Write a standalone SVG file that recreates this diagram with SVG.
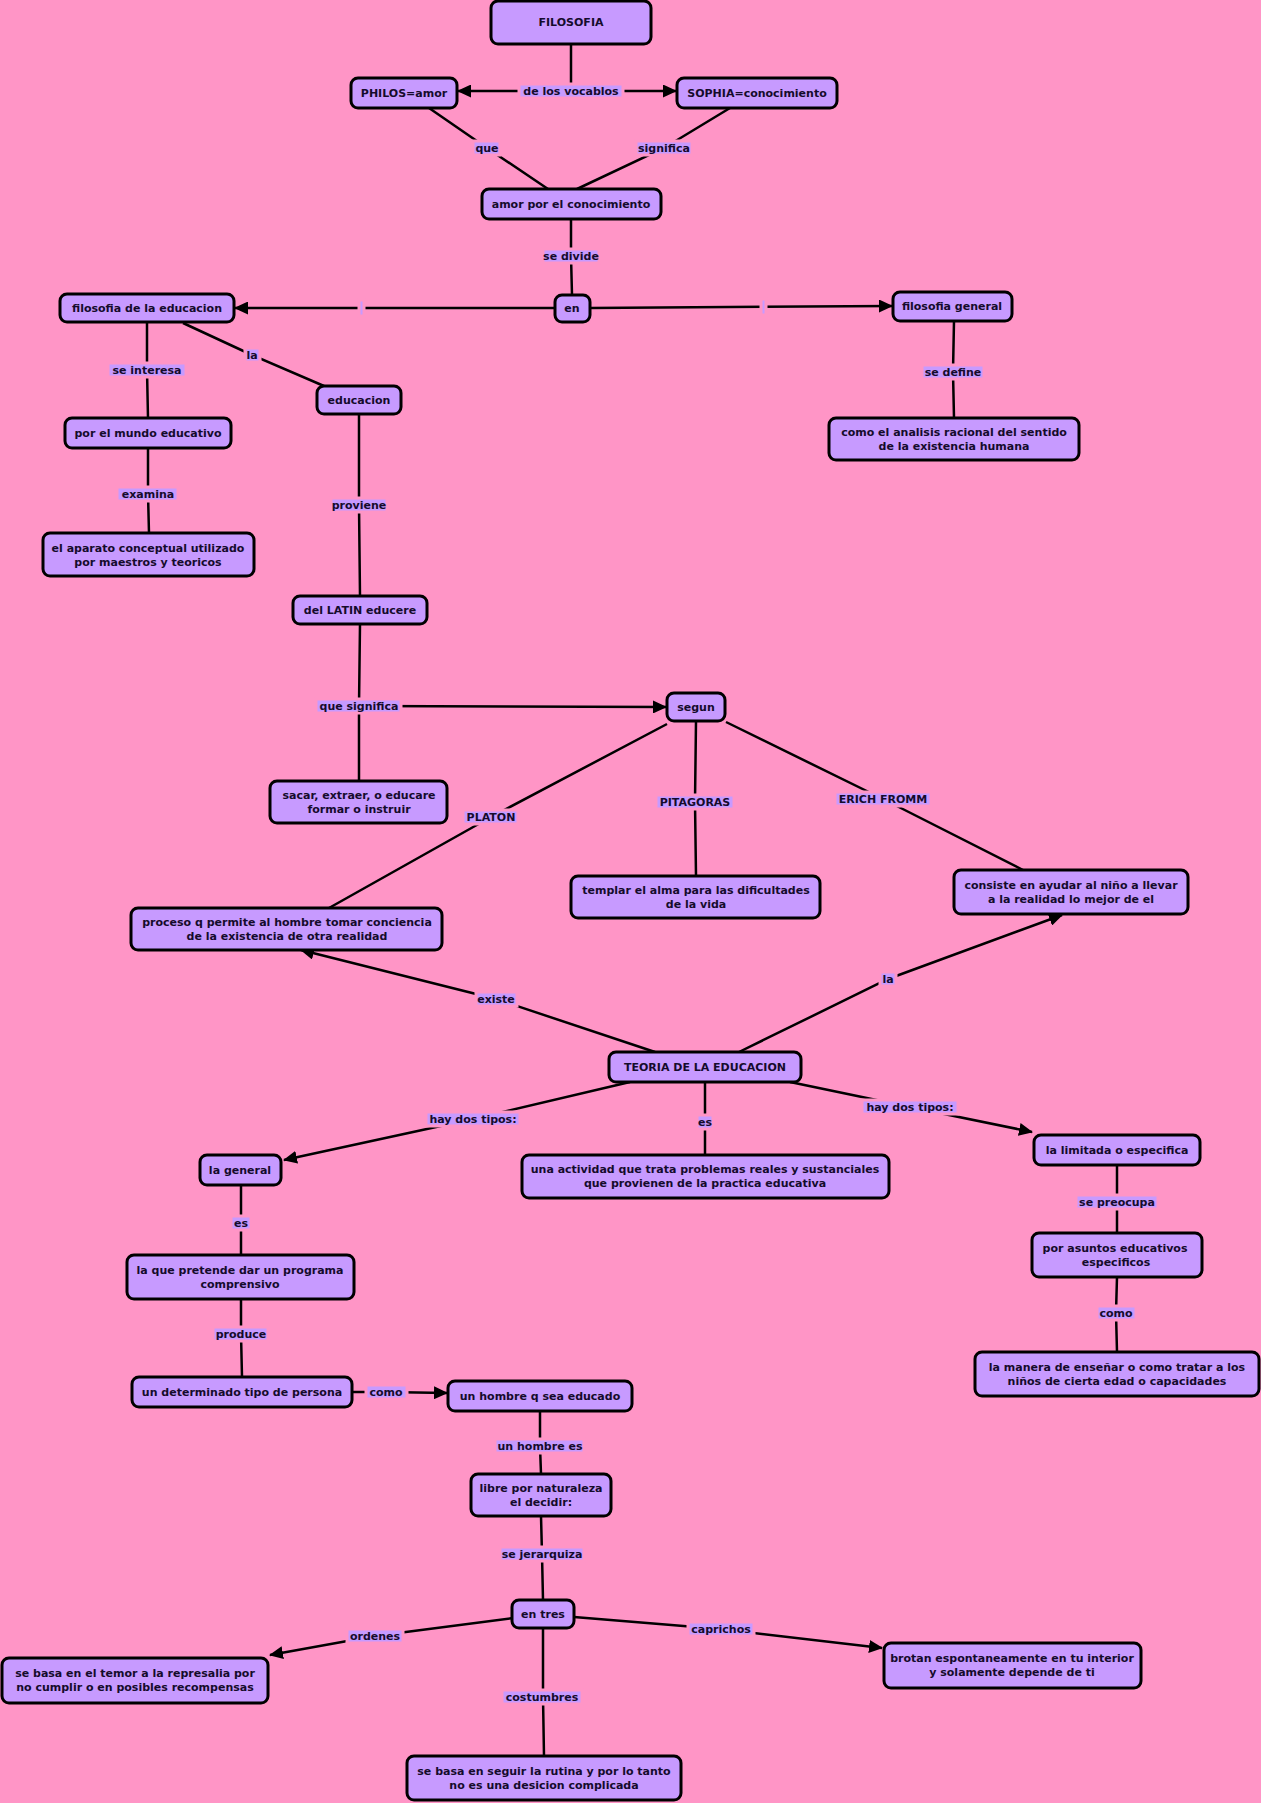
<svg xmlns="http://www.w3.org/2000/svg" width="1261" height="1803" viewBox="0 0 1261 1803">
<defs>
<style>
.node rect{fill:#c79aff;stroke:#000;stroke-width:3}
.lbl rect{fill:#c79aff;stroke:#ff95c6;stroke-width:3}
text{font-family:"DejaVu Sans",Verdana,sans-serif;font-size:11px;font-weight:bold;fill:#150b2c;text-anchor:middle}
.edge{stroke:#000;stroke-width:2.5;fill:none}
.arr{marker-end:url(#ah)}
</style>
<marker id="ah" markerUnits="userSpaceOnUse" viewBox="0 0 14 13" markerWidth="14" markerHeight="13" refX="13" refY="6.5" orient="auto">
<path d="M0,0 L14,6.5 L0,13 z" fill="#000"/>
</marker>
</defs>
<rect width="1261" height="1803" fill="#ff95c6"/>
<g id="connectors">
<path class="edge" d="M571,44 L571,91"/>
<path class="edge arr" d="M571,91 L458,91"/>
<path class="edge arr" d="M571,91 L676,91"/>
<path class="edge" d="M429,108 L487,148 L548,189"/>
<path class="edge" d="M730,108 L664,148 L577,189"/>
<path class="edge" d="M571,219 L571,256 L572,295"/>
<path class="edge arr" d="M555,308 L235,308"/>
<path class="edge arr" d="M590,308 L892,306"/>
<path class="edge" d="M147,322 L147,370 L148,418"/>
<path class="edge" d="M183,323 L252,355 L324,386"/>
<path class="edge" d="M148,448 L148,494 L149,533"/>
<path class="edge" d="M954,321 L953,372 L954,418"/>
<path class="edge" d="M359,414 L359,505 L360,596"/>
<path class="edge" d="M360,624 L359,706 L359,781"/>
<path class="edge arr" d="M359,706 L666,707"/>
<path class="edge" d="M667,724 L491,817 L329,908"/>
<path class="edge" d="M696,721 L695,802 L696,876"/>
<path class="edge" d="M726,722 L883,799 L1023,870"/>
<path class="edge arr" d="M655,1052 L496,999 L301,950"/>
<path class="edge arr" d="M739,1052 L888,979 L1062,915"/>
<path class="edge arr" d="M630,1082 L473,1119 L284,1160"/>
<path class="edge" d="M705,1082 L705,1122 L705,1155"/>
<path class="edge arr" d="M790,1082 L910,1107 L1032,1132"/>
<path class="edge" d="M1117,1165 L1117,1202 L1117,1233"/>
<path class="edge" d="M1117,1277 L1116,1313 L1117,1352"/>
<path class="edge" d="M241,1185 L241,1223 L241,1255"/>
<path class="edge" d="M241,1299 L241,1334 L242,1377"/>
<path class="edge arr" d="M352,1392 L386,1392 L447,1393"/>
<path class="edge" d="M540,1411 L540,1446 L541,1474"/>
<path class="edge" d="M541,1516 L542,1554 L543,1600"/>
<path class="edge arr" d="M513,1618 L375,1636 L270,1655"/>
<path class="edge arr" d="M574,1617 L720,1629 L882,1648"/>
<path class="edge" d="M543,1628 L543,1697 L544,1756"/>
<g class="lbl">
<rect x="519" y="84" width="104" height="14"/><text x="571" y="95">de los vocablos</text>
<rect x="473" y="141" width="27" height="14"/><text x="487" y="152">que</text>
<rect x="636" y="141" width="56" height="14"/><text x="664" y="152">significa</text>
<rect x="543" y="249" width="56" height="14"/><text x="571" y="260">se divide</text>
<rect x="359" y="300" width="5" height="16"/>
<rect x="761" y="299" width="5" height="16"/>
<rect x="108" y="363" width="78" height="14"/><text x="147" y="374">se interesa</text>
<rect x="245" y="348" width="15" height="14"/><text x="252" y="359">la</text>
<rect x="117" y="487" width="61" height="14"/><text x="148" y="498">examina</text>
<rect x="331" y="498" width="56" height="14"/><text x="359" y="509">proviene</text>
<rect x="922" y="365" width="62" height="14"/><text x="953" y="376">se define</text>
<rect x="316" y="699" width="85" height="14"/><text x="359" y="710">que significa</text>
<rect x="463" y="810" width="55" height="14"/><text x="491" y="821">PLATON</text>
<rect x="656" y="795" width="78" height="14"/><text x="695" y="806">PITAGORAS</text>
<rect x="835" y="792" width="96" height="14"/><text x="883" y="803">ERICH FROMM</text>
<rect x="476" y="992" width="41" height="14"/><text x="496" y="1003">existe</text>
<rect x="880" y="972" width="16" height="14"/><text x="888" y="983">la</text>
<rect x="426" y="1112" width="94" height="14"/><text x="473" y="1123">hay dos tipos:</text>
<rect x="697" y="1115" width="16" height="14"/><text x="705" y="1126">es</text>
<rect x="862" y="1100" width="96" height="14"/><text x="910" y="1111">hay dos tipos:</text>
<rect x="1076" y="1195" width="82" height="14"/><text x="1117" y="1206">se preocupa</text>
<rect x="1097" y="1306" width="39" height="14"/><text x="1116" y="1317">como</text>
<rect x="231" y="1216" width="20" height="14"/><text x="241" y="1227">es</text>
<rect x="213" y="1327" width="55" height="14"/><text x="241" y="1338">produce</text>
<rect x="366" y="1385" width="41" height="14"/><text x="386" y="1396">como</text>
<rect x="495" y="1439" width="89" height="14"/><text x="540" y="1450">un hombre es</text>
<rect x="500" y="1547" width="84" height="14"/><text x="542" y="1558">se jerarquiza</text>
<rect x="347" y="1629" width="56" height="14"/><text x="375" y="1640">ordenes</text>
<rect x="688" y="1622" width="66" height="14"/><text x="721" y="1633">caprichos</text>
<rect x="502" y="1690" width="80" height="14"/><text x="542" y="1701">costumbres</text>
</g>
</g>
<g id="n-filosofia" class="node"><rect x="491" y="1" width="160" height="43" rx="7"/><text x="571" y="26">FILOSOFIA</text></g>
<g id="n-philos" class="node"><rect x="351" y="78" width="106" height="30" rx="7"/><text x="404" y="97">PHILOS=amor</text></g>
<g id="n-sophia" class="node"><rect x="677" y="78" width="160" height="30" rx="7"/><text x="757" y="97">SOPHIA=conocimiento</text></g>
<g id="n-amor" class="node"><rect x="482" y="189" width="179" height="30" rx="7"/><text x="571" y="208">amor por el conocimiento</text></g>
<g id="n-en" class="node"><rect x="555" y="295" width="35" height="27" rx="7"/><text x="572" y="312">en</text></g>
<g id="n-filoedu" class="node"><rect x="60" y="294" width="174" height="28" rx="7"/><text x="147" y="312">filosofia de la educacion</text></g>
<g id="n-filogen" class="node"><rect x="893" y="292" width="119" height="29" rx="7"/><text x="952" y="310">filosofia general</text></g>
<g id="n-educacion" class="node"><rect x="317" y="386" width="84" height="28" rx="7"/><text x="359" y="404">educacion</text></g>
<g id="n-mundo" class="node"><rect x="65" y="418" width="166" height="30" rx="7"/><text x="148" y="437">por el mundo educativo</text></g>
<g id="n-aparato" class="node"><rect x="43" y="533" width="211" height="43" rx="7"/><text x="148" y="552">el aparato conceptual utilizado</text><text x="148" y="566">por maestros y teoricos</text></g>
<g id="n-analisis" class="node"><rect x="829" y="418" width="250" height="42" rx="7"/><text x="954" y="436">como el analisis racional del sentido</text><text x="954" y="450">de la existencia humana</text></g>
<g id="n-latin" class="node"><rect x="293" y="596" width="134" height="28" rx="7"/><text x="360" y="614">del LATIN educere</text></g>
<g id="n-segun" class="node"><rect x="667" y="693" width="58" height="28" rx="7"/><text x="696" y="711">segun</text></g>
<g id="n-sacar" class="node"><rect x="270" y="781" width="177" height="42" rx="7"/><text x="359" y="799">sacar, extraer, o educare</text><text x="359" y="813">formar o instruir</text></g>
<g id="n-templar" class="node"><rect x="571" y="876" width="249" height="42" rx="7"/><text x="696" y="894">templar el alma para las dificultades</text><text x="696" y="908">de la vida</text></g>
<g id="n-proceso" class="node"><rect x="131" y="908" width="311" height="42" rx="7"/><text x="287" y="926">proceso q permite al hombre tomar conciencia</text><text x="287" y="940">de la existencia de otra realidad</text></g>
<g id="n-consiste" class="node"><rect x="954" y="870" width="234" height="44" rx="7"/><text x="1071" y="889">consiste en ayudar al niño a llevar</text><text x="1071" y="903">a la realidad lo mejor de el</text></g>
<g id="n-teoria" class="node"><rect x="609" y="1052" width="192" height="30" rx="7"/><text x="705" y="1071">TEORIA DE LA EDUCACION</text></g>
<g id="n-general" class="node"><rect x="200" y="1155" width="81" height="30" rx="7"/><text x="240" y="1174">la general</text></g>
<g id="n-actividad" class="node"><rect x="522" y="1155" width="367" height="43" rx="7"/><text x="705" y="1173">una actividad que trata problemas reales y sustanciales</text><text x="705" y="1187">que provienen de la practica educativa</text></g>
<g id="n-limitada" class="node"><rect x="1034" y="1135" width="166" height="30" rx="7"/><text x="1117" y="1154">la limitada o especifica</text></g>
<g id="n-asuntos" class="node"><rect x="1032" y="1233" width="170" height="44" rx="7"/><text x="1115" y="1252">por asuntos educativos</text><text x="1116" y="1266">especificos</text></g>
<g id="n-manera" class="node"><rect x="975" y="1352" width="284" height="44" rx="7"/><text x="1117" y="1371">la manera de enseñar o como tratar a los</text><text x="1117" y="1385">niños de cierta edad o capacidades</text></g>
<g id="n-pretende" class="node"><rect x="127" y="1255" width="227" height="44" rx="7"/><text x="240" y="1274">la que pretende dar un programa</text><text x="240" y="1288">comprensivo</text></g>
<g id="n-determinado" class="node"><rect x="132" y="1377" width="220" height="30" rx="7"/><text x="242" y="1396">un determinado tipo de persona</text></g>
<g id="n-hombre" class="node"><rect x="448" y="1381" width="184" height="30" rx="7"/><text x="540" y="1400">un hombre q sea educado</text></g>
<g id="n-libre" class="node"><rect x="471" y="1474" width="140" height="42" rx="7"/><text x="541" y="1492">libre por naturaleza</text><text x="541" y="1506">el decidir:</text></g>
<g id="n-entres" class="node"><rect x="512" y="1600" width="62" height="28" rx="7"/><text x="543" y="1618">en tres</text></g>
<g id="n-temor" class="node"><rect x="2" y="1658" width="266" height="45" rx="7"/><text x="135" y="1677">se basa en el temor a la represalia por</text><text x="135" y="1691">no cumplir o en posibles recompensas</text></g>
<g id="n-brotan" class="node"><rect x="884" y="1643" width="257" height="45" rx="7"/><text x="1012" y="1662">brotan espontaneamente en tu interior</text><text x="1012" y="1676">y solamente depende de ti</text></g>
<g id="n-rutina" class="node"><rect x="407" y="1756" width="274" height="44" rx="7"/><text x="544" y="1775">se basa en seguir la rutina y por lo tanto</text><text x="544" y="1789">no es una desicion complicada</text></g>
</svg>
